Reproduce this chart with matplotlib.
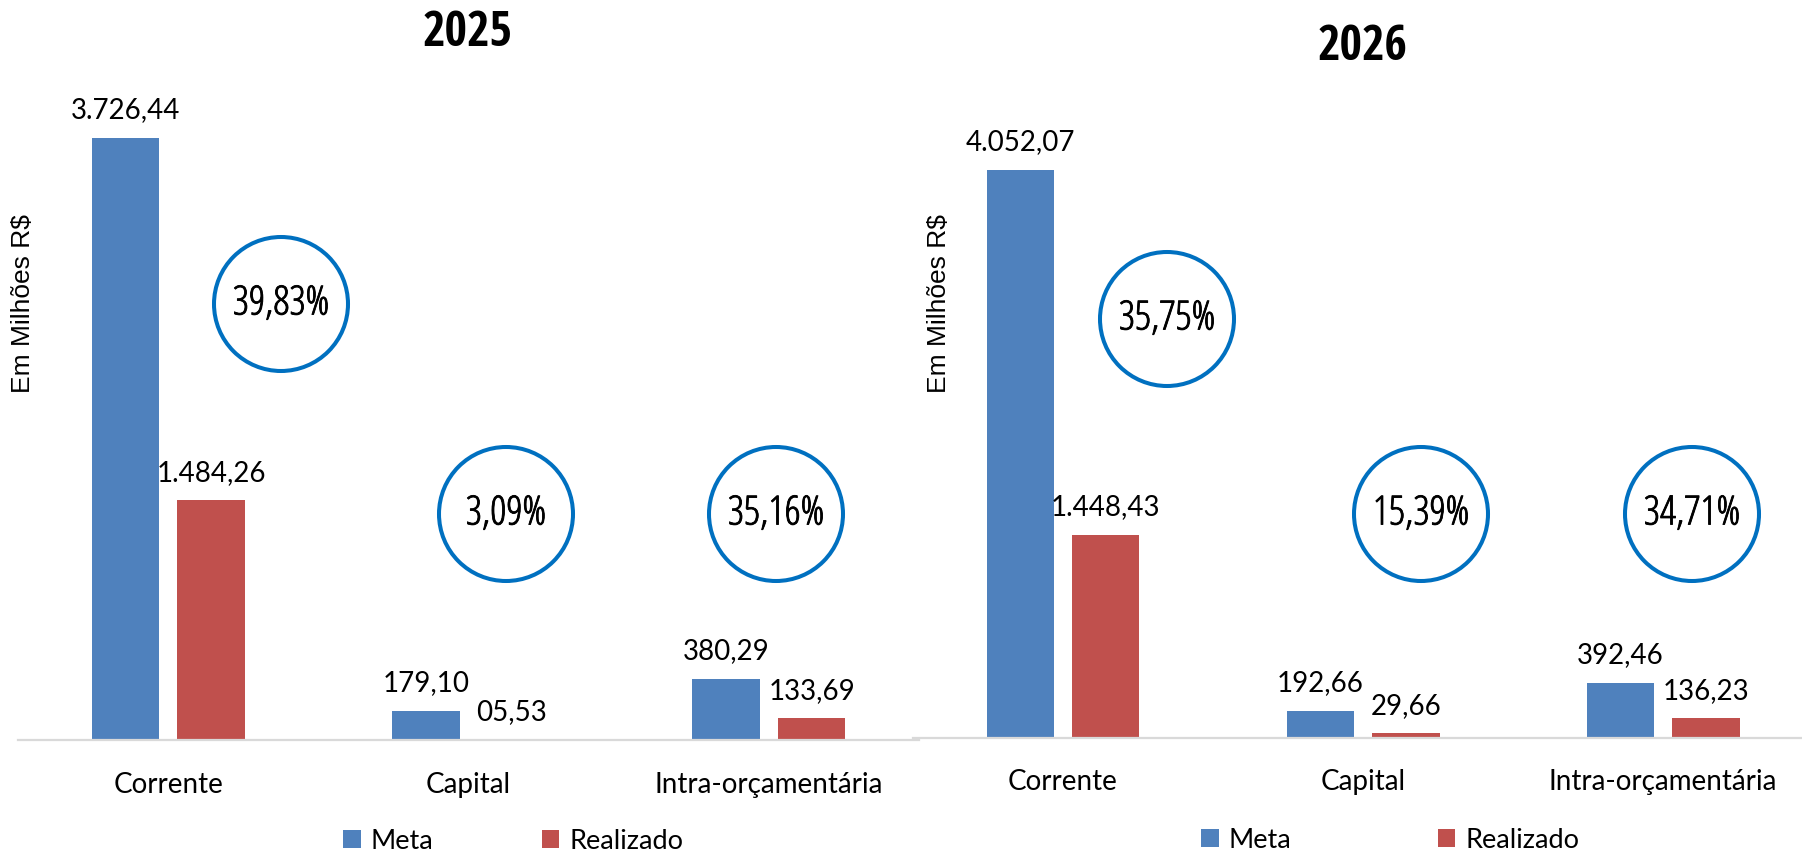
import matplotlib
matplotlib.use("Agg")
import matplotlib.pyplot as plt
from matplotlib import font_manager as fm
from matplotlib import patheffects as pe
from matplotlib.patches import Ellipse

# ---------------- data ----------------
categories = ["Corrente", "Capital", "Intra-orçamentária"]
series_names = ["Meta", "Realizado"]
years = ["2025", "2026"]
y_label = "Em Milhões R$"

meta_2025 = [3726.44, 179.10, 380.29]
realizado_2025 = [1484.26, 5.53, 133.69]
meta_labels_2025 = ["3.726,44", "179,10", "380,29"]
realizado_labels_2025 = ["1.484,26", "05,53", "133,69"]
pct_2025 = ["39,83%", "3,09%", "35,16%"]

meta_2026 = [4052.07, 192.66, 392.46]
realizado_2026 = [1448.43, 29.66, 136.23]
meta_labels_2026 = ["4.052,07", "192,66", "392,46"]
realizado_labels_2026 = ["1.448,43", "29,66", "136,23"]
pct_2026 = ["35,75%", "15,39%", "34,71%"]

# ---------------- fonts ----------------
_WMAP = {"normal": 400, "regular": 400, "book": 400, "bold": 700, "light": 300,
         "medium": 500, "semibold": 600, "demibold": 600, "heavy": 800, "black": 900,
         "thin": 100, "extra bold": 800, "ultralight": 200}


def _w(f):
    w = f.weight
    if isinstance(w, str):
        return _WMAP.get(w.lower(), 400)
    return int(w)


COND = ("condensed", "semi-condensed", "extra-condensed", "ultra-condensed")


def _group(f):
    nm = f.name
    narrow = ("Condensed" in nm or "Narrow" in nm or f.stretch in COND)
    if not narrow or f.style != "normal":
        return None
    if nm.startswith("Open Sans"):
        return 0
    if nm.startswith("Roboto"):
        return 1
    if nm.startswith("Liberation Sans Narrow"):
        return 2
    if "Mono" in nm or "Serif" in nm:
        return None
    return 3


def pick_condensed(weight):
    cands = []
    for f in fm.fontManager.ttflist:
        g = _group(f)
        if g is None:
            continue
        cands.append((g, abs(_w(f) - weight), f.fname))
    if not cands:
        return None
    cands.sort()
    return cands[0][2]


cond_reg = pick_condensed(400)
cond_bold = pick_condensed(700)

if cond_reg:
    pct_fp = fm.FontProperties(fname=cond_reg, size=29)
else:
    pct_fp = fm.FontProperties(family="Liberation Sans", size=22)
if cond_bold:
    title_fp = fm.FontProperties(fname=cond_bold, size=35)
else:
    title_fp = fm.FontProperties(family="Liberation Sans", weight="bold", size=28)

lato = fm.FontProperties(family=["Lato", "DejaVu Sans"], size=20)
lato_leg = fm.FontProperties(family=["Lato", "DejaVu Sans"], size=19.5)
arial = fm.FontProperties(family=["Liberation Sans", "DejaVu Sans"], size=19)

# ---------------- layout ----------------
W, H = 1802, 853
fig = plt.figure(figsize=(W / 100, H / 100), dpi=100)

META_C = "#4F81BD"
REAL_C = "#C0504D"
CIRC_C = "#0070C0"
AXIS_C = "#D9D9D9"

bar_w = 0.225
off = 0.1424

panels = [
    dict(year=years[0], meta=meta_2025, real=realizado_2025, ml=meta_labels_2025,
         rl=realizado_labels_2025, pct=pct_2025,
         x0=18.35, x1=919.0, ybot=741.0, ymax=4000, pxu=0.16155, xlim=(-0.5, 2.5),
         title_xy=(468, 34), ylab_xy=(23.5, 303.5),
         circles=[(281, 305), (506, 515), (776, 515)],
         leg_xy=(343, 842), colsp=4.0),
    dict(year=years[1], meta=meta_2026, real=realizado_2026, ml=meta_labels_2026,
         rl=realizado_labels_2026, pct=pct_2026,
         x0=913.0, x1=1802.0, ybot=738.5, ymax=4500, pxu=0.14005, xlim=(-0.5, 2.463),
         title_xy=(1363, 47), ylab_xy=(939, 303.5),
         circles=[(1167, 320), (1421, 515), (1692, 515)],
         leg_xy=(1201, 841), colsp=5.4),
]

for p in panels:
    h_px = p["ymax"] * p["pxu"]
    ax = fig.add_axes([p["x0"] / W, 1 - p["ybot"] / H, (p["x1"] - p["x0"]) / W, h_px / H])
    ax.set_facecolor("none")
    x = list(range(len(categories)))
    bm = ax.bar([i - off for i in x], p["meta"], width=bar_w, color=META_C, label=series_names[0])
    br = ax.bar([i + off for i in x], p["real"], width=bar_w, color=REAL_C, label=series_names[1])
    for i in x:
        ax.annotate(p["ml"][i], xy=(i - off, p["meta"][i]), xytext=(0, 14.8),
                    textcoords="offset points", ha="center", va="baseline",
                    fontproperties=lato, color="black", annotation_clip=False)
        ax.annotate(p["rl"][i], xy=(i + off, p["real"][i]), xytext=(0, 14.8),
                    textcoords="offset points", ha="center", va="baseline",
                    fontproperties=lato, color="black", annotation_clip=False)
    ax.set_xlim(*p["xlim"])
    ax.set_ylim(0, p["ymax"])
    for s in ("top", "left", "right"):
        ax.spines[s].set_visible(False)
    ax.spines["bottom"].set_color(AXIS_C)
    ax.spines["bottom"].set_linewidth(1.6)
    ax.set_yticks([])
    ax.set_xticks(x)
    ax.set_xticklabels(categories, fontproperties=lato)
    ax.tick_params(axis="x", length=0, pad=22)

    # title
    fig.text(p["title_xy"][0] / W, 1 - p["title_xy"][1] / H, p["year"],
             fontproperties=title_fp, ha="center", va="center")
    # y label
    fig.text(p["ylab_xy"][0] / W, 1 - p["ylab_xy"][1] / H, y_label,
             fontproperties=arial, rotation=90, ha="center", va="center")
    # circles with percentages
    for (cx, cy), t in zip(p["circles"], p["pct"]):
        e = Ellipse((cx / W, 1 - cy / H), 134 / W, 134 / H, transform=fig.transFigure,
                    fill=False, edgecolor=CIRC_C, linewidth=2.9)
        fig.add_artist(e)
        fig.text(cx / W, 1 - cy / H, t, fontproperties=pct_fp, ha="center", va="center",
                 path_effects=[pe.withStroke(linewidth=0.6, foreground="black")])
    # legend
    ax.legend(handles=[bm, br], labels=series_names, loc="center left",
              bbox_to_anchor=(p["leg_xy"][0] / W, 1 - p["leg_xy"][1] / H),
              bbox_transform=fig.transFigure, ncol=2, frameon=False, prop=lato_leg,
              handlelength=0.65, handleheight=0.68, handletextpad=0.37,
              columnspacing=p["colsp"], borderpad=0, borderaxespad=0)

fig.savefig("out.png", dpi=100)
